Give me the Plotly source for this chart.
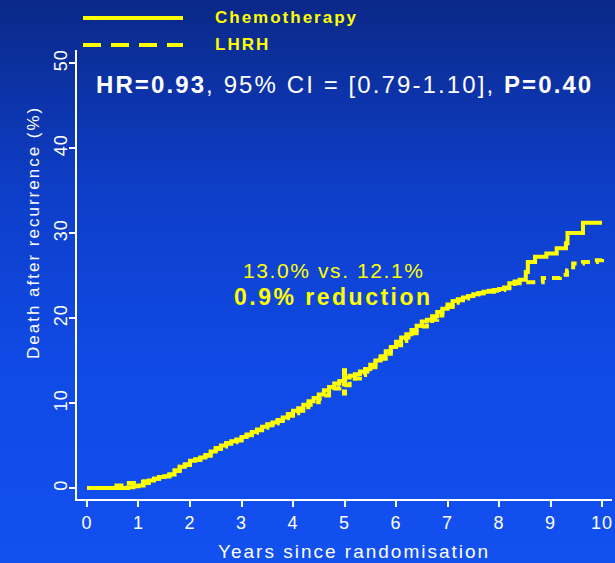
import plotly.graph_objects as go

# Kaplan-Meier style cumulative death after recurrence (%)
chemo_t = [0, 0.8, 0.9, 1.0, 1.1, 1.2, 1.3, 1.4, 1.5, 1.6, 1.7, 1.8, 1.9,
           2.0, 2.1, 2.2, 2.3, 2.4, 2.5, 2.6, 2.7, 2.8, 2.9,
           3.0, 3.1, 3.2, 3.3, 3.4, 3.5, 3.6, 3.7, 3.8, 3.9,
           4.0, 4.1, 4.2, 4.3, 4.4, 4.5, 4.6, 4.7, 4.8, 4.9,
           5.0, 5.1, 5.2, 5.3, 5.4, 5.5, 5.6, 5.7, 5.8, 5.9,
           6.0, 6.1, 6.2, 6.3, 6.4, 6.5, 6.6, 6.7, 6.8, 6.9,
           7.0, 7.1, 7.2, 7.3, 7.4, 7.5, 7.6, 7.7, 7.8, 7.9,
           8.0, 8.1, 8.2, 8.3, 8.4, 8.52, 8.56, 8.7, 8.92, 9.12, 9.3, 9.33, 9.63, 10.0]
chemo_v = [0, 0.1, 0.2, 0.3, 0.6, 0.9, 1.1, 1.3, 1.4, 1.6, 2.0, 2.5, 2.8,
           3.2, 3.4, 3.6, 3.9, 4.3, 4.7, 5.0, 5.3, 5.5, 5.7,
           6.0, 6.3, 6.6, 6.9, 7.2, 7.5, 7.7, 8.0, 8.3, 8.7,
           9.1, 9.4, 9.8, 10.2, 10.6, 11.0, 11.5, 11.9, 12.3, 12.6,
           13.0, 13.2, 13.4, 13.7, 14.0, 14.5, 15.0, 15.5, 16.1, 16.6,
           17.2, 17.7, 18.1, 18.6, 19.1, 19.6, 19.8, 20.2, 20.7, 21.1,
           21.6, 22.0, 22.2, 22.4, 22.6, 22.8, 22.9, 23.1, 23.2, 23.3,
           23.4, 23.6, 24.1, 24.3, 24.5, 25.4, 26.6, 27.2, 27.6, 28.2, 28.8, 30.0, 31.2, 31.2]

lhrh_t = [0, 0.45, 0.75, 1.0, 1.1, 1.2, 1.3, 1.4, 1.5, 1.6, 1.7, 1.8, 1.9,
          2.0, 2.1, 2.2, 2.3, 2.4, 2.5, 2.6, 2.7, 2.8, 2.9,
          3.0, 3.1, 3.2, 3.3, 3.4, 3.5, 3.6, 3.7, 3.8, 3.9,
          4.0, 4.1, 4.2, 4.3, 4.4, 4.5, 4.6, 4.7, 4.8, 4.9,
          5.0, 5.1, 5.2, 5.3, 5.4, 5.5, 5.6, 5.7, 5.8, 5.9,
          6.0, 6.1, 6.2, 6.3, 6.4, 6.5, 6.6, 6.7, 6.8, 6.9,
          7.0, 7.1, 7.2, 7.3, 7.4, 7.5, 7.6, 7.7, 7.8, 7.9,
          8.0, 8.1, 8.2, 8.3, 8.4, 8.85, 9.18, 9.32, 9.44, 9.63, 9.9, 10.0]
lhrh_v = [0, 0.3, 0.6, 0.7, 0.8, 0.9, 1.1, 1.3, 1.4, 1.6, 2.1, 2.5, 2.7,
          3.0, 3.3, 3.5, 3.8, 4.2, 4.6, 4.9, 5.2, 5.4, 5.6,
          5.9, 6.2, 6.5, 6.8, 7.1, 7.4, 7.6, 7.9, 8.2, 8.5,
          8.8, 9.1, 9.5, 9.8, 10.1, 10.5, 10.9, 11.3, 11.7, 11.9,
          12.1, 12.6, 12.9, 13.3, 13.7, 14.2, 14.7, 15.2, 15.8, 16.3,
          16.8, 17.3, 17.7, 18.2, 18.6, 19.0, 19.4, 19.8, 20.3, 20.8,
          21.3, 21.8, 22.1, 22.3, 22.6, 22.8, 22.9, 23.0, 23.1, 23.2,
          23.3, 23.5, 24.0, 24.1, 24.2, 24.7, 25.1, 25.6, 26.4, 26.6, 26.8, 27.1]

# 5-year bars
ci_x = [5, 5]
chemo_ci = [12.3, 14.1]
lhrh_ci = [10.9, 13.0]

x_ticks = [0, 1, 2, 3, 4, 5, 6, 7, 8, 9, 10]
y_ticks = [0, 10, 20, 30, 40, 50]

YEL = '#FFFF00'
FONT = 'Liberation Sans, Arial, sans-serif'


def sp(text, px=2.0, bold=False):
    s = '<span style="letter-spacing:%spx">%s</span>' % (px, text)
    return '<b>' + s + '</b>' if bold else s


fig = go.Figure()

# gradient background bands (top dark navy -> bright blue)
stops = [(0, (10, 40, 135)), (190, (14, 62, 200)), (370, (16, 74, 230)), (563, (18, 80, 240))]
W, H = 615, 563
ml, mr, mt, mb = 77, 3, 50, 64
pw, ph = W - ml - mr, H - mt - mb
shapes = []
nb = 94
for i in range(nb):
    y0p = i * H / nb
    y1p = (i + 1) * H / nb
    ym = (y0p + y1p) / 2
    for j in range(len(stops) - 1):
        if stops[j][0] <= ym <= stops[j + 1][0]:
            f = (ym - stops[j][0]) / (stops[j + 1][0] - stops[j][0])
            c = [round(a + (b - a) * f) for a, b in zip(stops[j][1], stops[j + 1][1])]
            break
    shapes.append(dict(type='rect', xref='paper', yref='paper', layer='below',
                       x0=-ml / pw - 0.01, x1=1 + mr / pw + 0.01,
                       y0=(H - mb - y1p) / ph - 0.002, y1=(H - mb - y0p) / ph + 0.002,
                       fillcolor='rgb(%d,%d,%d)' % tuple(c), line=dict(width=0)))

# legend lines
shapes.append(dict(type='line', xref='paper', yref='paper', x0=(83 - ml) / pw, x1=(183 - ml) / pw,
                   y0=(H - mb - 18) / ph, y1=(H - mb - 18) / ph, line=dict(color=YEL, width=4)))
shapes.append(dict(type='line', xref='paper', yref='paper', x0=(83 - ml) / pw, x1=(183 - ml) / pw,
                   y0=(H - mb - 45) / ph, y1=(H - mb - 45) / ph,
                   line=dict(color=YEL, width=4, dash='18px,10px')))

fig.add_trace(go.Scatter(x=chemo_t, y=chemo_v, mode='lines', line=dict(color=YEL, width=4, shape='hv'),
                         hoverinfo='none', showlegend=False))
fig.add_trace(go.Scatter(x=lhrh_t, y=lhrh_v, mode='lines',
                         line=dict(color=YEL, width=4, shape='hv', dash='9px,6px'),
                         hoverinfo='none', showlegend=False))
fig.add_trace(go.Scatter(x=ci_x, y=chemo_ci, mode='lines', line=dict(color=YEL, width=5),
                         hoverinfo='none', showlegend=False))
fig.add_trace(go.Scatter(x=ci_x, y=lhrh_ci, mode='lines', line=dict(color=YEL, width=5, dash='6px,3px'),
                         hoverinfo='none', showlegend=False))

annotations = [
    dict(text=sp('Chemotherapy', 2, True), x=(213 - ml) / pw, y=(H - mb - 18) / ph, xanchor='left',
         font=dict(color=YEL, size=17, family=FONT)),
    dict(text=sp('LHRH', 2, True), x=(213 - ml) / pw, y=(H - mb - 45) / ph, xanchor='left',
         font=dict(color=YEL, size=17, family=FONT)),
    dict(text=sp('<b>HR=0.93</b>, 95% CI = [0.79-1.10], <b>P=0.40</b>', 2.1),
         x=(344 - ml) / pw, y=(H - mb - 85) / ph, font=dict(color='white', size=24, family=FONT)),
    dict(text=sp('13.0% vs. 12.1%', 1.6), x=(334 - ml) / pw, y=(H - mb - 270) / ph,
         font=dict(color=YEL, size=21, family=FONT)),
    dict(text=sp('0.9% reduction', 2.5, True), x=(333 - ml) / pw, y=(H - mb - 297) / ph,
         font=dict(color=YEL, size=23, family=FONT)),
    # axis titles
    dict(text=sp('Years since randomisation', 2), x=(354 - ml) / pw, y=(H - mb - 551) / ph,
         font=dict(color='white', size=19, family=FONT)),
    dict(text=sp('Death after recurrence (%)', 2), x=(33 - ml) / pw, y=(H - mb - 233) / ph,
         textangle=-90, font=dict(color='white', size=17, family=FONT)),
]
for a in annotations:
    a.update(xref='paper', yref='paper', showarrow=False, yanchor='middle')
    a.setdefault('xanchor', 'center')

axis_common = dict(showline=True, linecolor='white', linewidth=2, ticks='outside', ticklen=6,
                   tickwidth=1.5, tickcolor='white', showgrid=False, zeroline=False,
                   tickfont=dict(color='white', size=18, family=FONT))

fig.update_layout(
    width=W, height=H, margin=dict(l=ml, r=mr, t=mt, b=mb),
    paper_bgcolor='#0e3ec6', plot_bgcolor='rgba(0,0,0,0)',
    shapes=shapes, annotations=annotations,
    xaxis=dict(range=[-0.194, 10.194], tickvals=x_ticks, ticktext=[sp(str(v), 1) for v in x_ticks],
               **axis_common),
    yaxis=dict(range=[-1.29, 51.53], tickvals=y_ticks, ticktext=[sp(str(v), 1) for v in y_ticks],
               tickangle=-90, ticklabelstandoff=-5, **axis_common),
)

fig.write_html("out.html", config={'displayModeBar': False},
               post_script="document.body.style.margin='0';document.body.style.overflow='hidden';")
